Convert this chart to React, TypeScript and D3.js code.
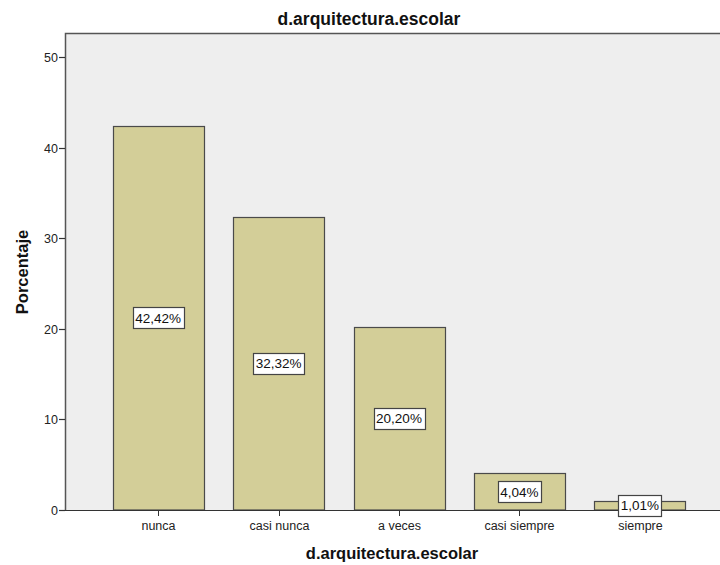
import React, { useEffect, useRef } from "react";
import * as d3 from "d3";

const categories = ["nunca", "casi nunca", "a veces", "casi siempre", "siempre"];
const percentages = [42.42, 32.32, 20.2, 4.04, 1.01];
const valueLabels = ["42,42%", "32,32%", "20,20%", "4,04%", "1,01%"];
const yTicks = [0, 10, 20, 30, 40, 50];
const chartTitle = "d.arquitectura.escolar";
const xTitle = "d.arquitectura.escolar";
const yTitle = "Porcentaje";

const W = 720;
const H = 565;

export default function App() {
  const ref = useRef<SVGSVGElement>(null);

  useEffect(() => {
    const svg = d3.select(ref.current);
    svg.selectAll("*").remove();
    const font = "'Liberation Sans', Arial, sans-serif";

    const plotLeft = 65;
    const plotTop = 33;
    const plotBottom = 510;
    const plotRight = 722;

    const y = d3.scaleLinear().domain([0, 50]).range([plotBottom, 57]);
    const x = d3
      .scaleBand<string>()
      .domain(categories)
      .range([112.7, 685.3])
      .paddingInner(0.245)
      .paddingOuter(0);

    svg.append("rect").attr("width", W).attr("height", H).attr("fill", "#ffffff");

    svg
      .append("rect")
      .attr("x", plotLeft)
      .attr("y", plotTop)
      .attr("width", plotRight - plotLeft)
      .attr("height", plotBottom - plotTop)
      .attr("fill", "#eeeeee");

    svg
      .append("path")
      .attr("d", `M${plotRight},${plotTop + 0.5}H${plotLeft + 0.5}V${plotBottom}`)
      .attr("fill", "none")
      .attr("stroke", "#555555")
      .attr("stroke-width", 1.5);

    svg
      .append("g")
      .selectAll("rect")
      .data(percentages)
      .join("rect")
      .attr("x", (_d, i) => Math.round(x(categories[i])!) + 0.5)
      .attr("y", (d) => Math.round(y(d)) + 0.5)
      .attr("width", Math.round(x.bandwidth()))
      .attr("height", (d) => plotBottom - Math.round(y(d)) - 0.5)
      .attr("fill", "#d3ce98")
      .attr("stroke", "#4a4a4a")
      .attr("stroke-width", 1.2);

    svg
      .append("line")
      .attr("x1", plotLeft - 5)
      .attr("x2", plotRight)
      .attr("y1", plotBottom + 0.5)
      .attr("y2", plotBottom + 0.5)
      .attr("stroke", "#333333")
      .attr("stroke-width", 1.2);

    const yg = svg.append("g");
    yTicks.forEach((t) => {
      const yy = Math.round(y(t)) + 0.5;
      yg.append("line")
        .attr("x1", plotLeft - 6)
        .attr("x2", plotLeft)
        .attr("y1", yy)
        .attr("y2", yy)
        .attr("stroke", "#333333")
        .attr("stroke-width", 1.2);
      yg.append("text")
        .attr("x", plotLeft - 7)
        .attr("y", yy)
        .attr("dy", "0.35em")
        .attr("text-anchor", "end")
        .attr("font-family", font)
        .attr("font-size", 12.5)
        .attr("fill", "#222")
        .text(String(t));
    });

    const xg = svg.append("g");
    categories.forEach((c) => {
      const cx = Math.round(x(c)! + x.bandwidth() / 2) + 0.5;
      xg.append("line")
        .attr("x1", cx)
        .attr("x2", cx)
        .attr("y1", plotBottom)
        .attr("y2", plotBottom + 6)
        .attr("stroke", "#333333")
        .attr("stroke-width", 1);
      xg.append("text")
        .attr("x", cx)
        .attr("y", plotBottom + 20)
        .attr("text-anchor", "middle")
        .attr("font-family", font)
        .attr("font-size", 12.5)
        .attr("fill", "#222")
        .text(c);
    });

    const lg = svg.append("g");
    percentages.forEach((v, i) => {
      const cx = x(categories[i])! + x.bandwidth() / 2;
      const cy = y(v / 2);
      const g = lg.append("g");
      const rect = g.append("rect");
      const txt = g
        .append("text")
        .attr("x", cx)
        .attr("y", cy)
        .attr("dy", "0.36em")
        .attr("text-anchor", "middle")
        .attr("font-family", font)
        .attr("font-size", 13.5)
        .attr("fill", "#111")
        .text(valueLabels[i]);
      const bb = (txt.node() as SVGTextElement).getBBox();
      const bw = bb.width + 5;
      const bh = 21;
      rect
        .attr("x", Math.round(cx - bw / 2) + 0.5)
        .attr("y", Math.round(cy - bh / 2) + 0.5)
        .attr("width", Math.round(bw))
        .attr("height", bh)
        .attr("fill", "#ffffff")
        .attr("stroke", "#444444")
        .attr("stroke-width", 1.2);
    });

    svg
      .append("text")
      .attr("x", 369)
      .attr("y", 25)
      .attr("text-anchor", "middle")
      .attr("font-family", font)
      .attr("font-weight", "bold")
      .attr("font-size", 17.5)
      .attr("fill", "#111")
      .text(chartTitle);

    svg
      .append("text")
      .attr("x", 392)
      .attr("y", 559)
      .attr("text-anchor", "middle")
      .attr("font-family", font)
      .attr("font-weight", "bold")
      .attr("font-size", 16.5)
      .attr("fill", "#111")
      .text(xTitle);

    svg
      .append("text")
      .attr("transform", `translate(28,272) rotate(-90)`)
      .attr("text-anchor", "middle")
      .attr("font-family", font)
      .attr("font-weight", "bold")
      .attr("font-size", 16.5)
      .attr("fill", "#111")
      .text(yTitle);
  }, []);

  return (
    <svg
      ref={ref}
      width={W}
      height={H}
      style={{ position: "fixed", left: 0, top: 0, display: "block" }}
    />
  );
}
